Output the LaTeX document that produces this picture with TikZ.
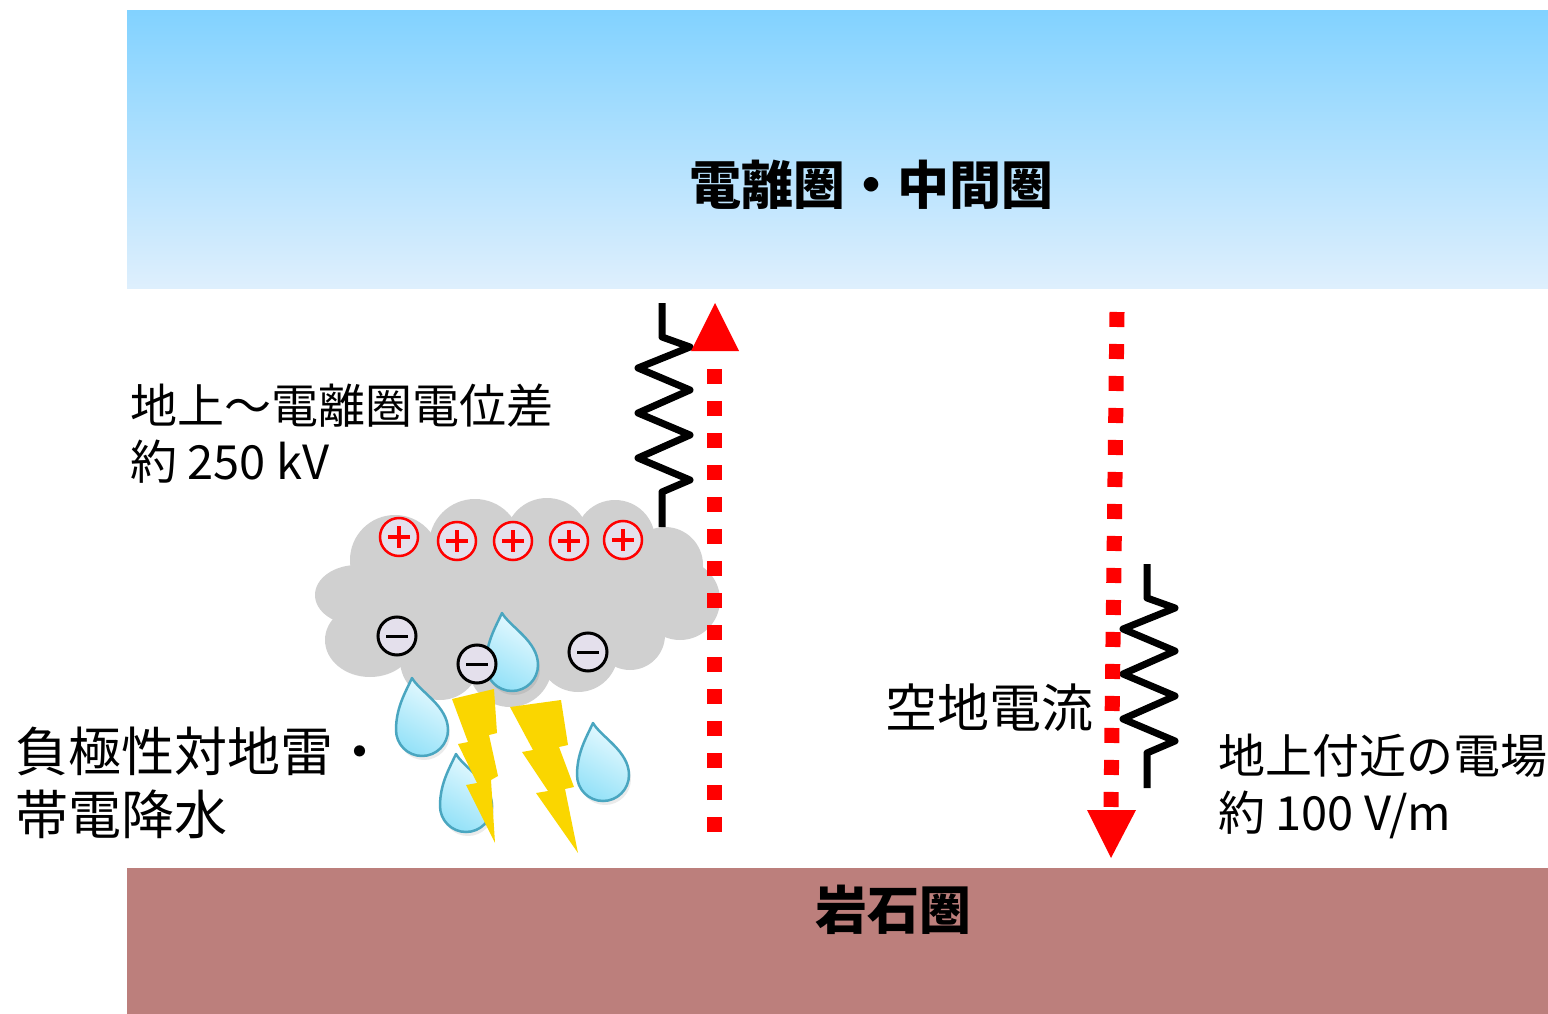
\documentclass[tikz,border=0pt]{standalone}
\usepackage{fontspec}
\setmainfont{Noto Sans CJK JP}
\definecolor{skytop}{RGB}{130,210,255}
\definecolor{skybot}{RGB}{222,239,253}
\definecolor{rock}{RGB}{188,127,124}
\definecolor{cloudgray}{RGB}{208,208,208}
\definecolor{chargefill}{RGB}{228,224,236}
\definecolor{boltyellow}{RGB}{250,214,0}
\definecolor{dropedge}{RGB}{74,166,192}
\definecolor{droplight}{RGB}{232,250,255}
\definecolor{dropdark}{RGB}{150,226,248}
\definecolor{flowred}{RGB}{255,0,0}
\tikzset{
  lbl/.style={inner sep=0pt, anchor=west, align=left},
  title/.style={inner sep=0pt, font=\fontsize{52}{60}\selectfont\bfseries},
  flow/.style={flowred, line width=15pt, dash pattern=on 15pt off 17pt},
  spring/.pic={
    \draw[black, line width=7pt, line join=round]
      (0,0) -- (0,34) -- (28,44) -- (-24,65) -- (28,87) -- (-24,110)
      -- (28,132) -- (-24,155) -- (28,177) -- (0,189) -- (0,224);
  },
  drop/.pic={
    \fill[black, opacity=0.08, shift={(2,4)}]
      (-10,-52) .. controls (-2,-38) and (26,-24) .. (26,0)
      arc[start angle=0, end angle=180, radius=26]
      .. controls (-26,-22) and (-17,-37) .. (-10,-52) -- cycle;
    \shade[top color=droplight, bottom color=dropdark, shading angle=-30]
      (-10,-52) .. controls (-2,-38) and (26,-24) .. (26,0)
      arc[start angle=0, end angle=180, radius=26]
      .. controls (-26,-22) and (-17,-37) .. (-10,-52) -- cycle;
    \draw[dropedge, line width=2.5pt, line join=round]
      (-10,-52) .. controls (-2,-38) and (26,-24) .. (26,0)
      arc[start angle=0, end angle=180, radius=26]
      .. controls (-26,-22) and (-17,-37) .. (-10,-52) -- cycle;
  },
  pluscharge/.pic={
    \draw[flowred, line width=2.5pt, fill=chargefill] (0,0) circle[radius=19];
    \draw[flowred, line width=4pt] (-11,0) -- (11,0) (0,-11) -- (0,11);
  },
  minuscharge/.pic={
    \draw[black, line width=3pt, fill=chargefill] (0,0) circle[radius=19];
    \draw[black, line width=3pt] (-11,0) -- (11,0);
  }
}
\begin{document}
\begin{tikzpicture}[x=1pt, y=-1pt]
\useasboundingbox (0,0) rectangle (1548,1014);
\fill[white] (0,0) rectangle (1548,1014);

% ionosphere / mesosphere layer
\shade[top color=skytop, bottom color=skybot] (127,11) rectangle (1548,288);
\node[title] (iono) at (871,185) {電離圏・中間圏};

% lithosphere
\fill[rock] (127,868) rectangle (1548,1014);
\node[title] (litho) at (893,910) {岩石圏};

% thundercloud
\begin{scope}[cloudgray]
  \fill (520,600) ellipse[x radius=160, y radius=65];
  \fill (395,560) circle[radius=45];
  \fill (475,545) circle[radius=46];
  \fill (547,540) circle[radius=42];
  \fill (615,540) circle[radius=40];
  \fill (665,565) circle[radius=38];
  \fill (680,600) circle[radius=40];
  \fill (357,595) ellipse[x radius=42, y radius=30];
  \fill (370,640) ellipse[x radius=45, y radius=37];
  \fill (440,660) circle[radius=40];
  \fill (510,665) circle[radius=42];
  \fill (578,652) circle[radius=40];
  \fill (630,635) circle[radius=35];
\end{scope}

% charged precipitation
\pic at (512,665) {drop};
\pic at (422,730) {drop};
\pic at (466,806) {drop};
\pic at (603,775) {drop};

% lightning bolts
\fill[boltyellow] (452,699) -- (494,689) -- (497,733) -- (489,735) -- (498,776)
  -- (491,780) -- (495,843) -- (466,785) -- (477,783) -- (458,744) -- (468,742) -- cycle;
\fill[boltyellow] (510,707) -- (561,700) -- (568,745) -- (559,747) -- (574,787)
  -- (565,789) -- (578,853) -- (536,793) -- (548,791) -- (522,752) -- (533,750) -- cycle;

% charges in the cloud
\foreach \cx/\cy in {399/537, 457/541, 513/541, 569/541, 623/540}
  \pic at (\cx,\cy) {pluscharge};
\foreach \cx/\cy in {397/636, 477/664, 588/652}
  \pic at (\cx,\cy) {minuscharge};

% resistances of the atmosphere
\pic at (662,303) {spring};
\pic at (1147,564) {spring};

% upward current above the thundercloud
\draw[flow] (714,832) -- (714,353);
\fill[flowred] (691,351) -- (739,351) -- (715,303) -- cycle;

% fair-weather air-earth current
\draw[flow] (1117,312) -- (1111,809);
\fill[flowred] (1087,810) -- (1136,810) -- (1111,858) -- cycle;

% labels
\node[lbl, font=\fontsize{47}{56}\selectfont] (potential) at (130,434)
  {地上～電離圏電位差\\約 250 kV};
\node[lbl, font=\fontsize{53}{63}\selectfont] (storm) at (15,783)
  {負極性対地雷・\\帯電降水};
\node[lbl, font=\fontsize{52}{60}\selectfont] (current) at (885,708) {空地電流};
\node[lbl, font=\fontsize{47}{57}\selectfont] (field) at (1218,786)
  {地上付近の電場\\約 100 V/m};
\end{tikzpicture}
\end{document}
